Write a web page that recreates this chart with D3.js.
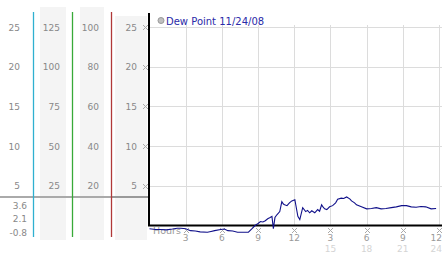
<!DOCTYPE html>
<html lang="en">
<head>
<meta charset="utf-8">
<script src="https://cdn.jsdelivr.net/npm/d3@7"></script>
<style type="text/css">
    body { margin: 0; background: #fff; }
    text { font-family: "DejaVu Sans", Verdana, sans-serif; }
</style>
</head>
<body>
<script>
// dew point readings, hours after midnight
const hours = [0, 0.5, 0.9, 1.4, 1.9, 2.3, 2.6, 3.0, 3.4, 3.8, 4.2, 4.8, 5.1, 5.4, 5.9, 6.2, 6.5, 6.9, 7.3, 7.7, 8.2, 8.5,
    8.75, 9.0, 9.2, 9.4, 9.6, 9.8, 10.0, 10.15, 10.27, 10.4, 10.56, 10.8, 10.97, 11.1, 11.2, 11.4, 11.6, 11.8, 12.05,
    12.3, 12.46, 12.7, 12.95, 13.1, 13.28, 13.45, 13.7, 13.94, 14.1, 14.27, 14.4, 14.52, 14.7, 14.93, 15.18, 15.43, 15.6,
    15.9, 16.1, 16.34, 16.6, 16.75, 17.0, 17.16, 17.57, 18.0, 18.4, 18.8, 19.2, 19.6, 20.05, 20.46, 20.9, 21.3, 21.7,
    22.1, 22.5, 22.9, 23.35, 23.76];
const dewPoint = [-0.4, -0.5, -0.5, -0.55, -0.45, -0.35, -0.35, -0.4, -0.65, -0.7, -0.8, -0.85, -0.75, -0.65, -0.5, -0.45, -0.65, -0.7, -0.85, -0.85, -0.85, -0.4,
    0, 0.25, 0.5, 0.45, 0.6, 0.85, 1.0, 1.15, -0.4, 1.0, 1.35, 1.75, 3.0, 2.7, 2.6, 2.5, 2.85, 3.1, 3.25,
    1.15, 0.75, 2.25, 1.75, 1.9, 1.6, 1.85, 1.6, 2.0, 1.8, 2.6, 2.3, 2.1, 2.0, 2.35, 2.5, 2.85, 3.3,
    3.45, 3.4, 3.6, 3.35, 3.1, 2.85, 2.6, 2.35, 2.1, 2.15, 2.25, 2.1, 2.15, 2.25, 2.35, 2.5, 2.5, 2.35,
    2.3, 2.4, 2.35, 2.1, 2.15];

const legendLabel = "Dew Point 11/24/08";
const hourTicks = [3, 6, 9, 12, 15, 18, 21, 24];
const hourLabels = ["3", "6", "9", "12", "3", "6", "9", "12"];
const hourLabels2 = ["", "", "", "", "15", "18", "21", "24"];
const col1Ticks = [5, 10, 15, 20, 25];
const col2Ticks = [25, 50, 75, 100, 125];
const col3Ticks = [20, 40, 60, 80, 100];
const col4Ticks = [5, 10, 15, 20, 25];
const lowLabels = ["3.6", "2.1", "-0.8"];

const w = 442, h = 253;
const svg = d3.select("body").append("svg").attr("width", w).attr("height", h);

const xScale = d3.scaleLinear().domain([0, 24]).range([149.5, 439]);
const yScale = d3.scaleLinear().domain([0, 25]).range([225.5, 27]);
const y2Scale = d3.scaleLinear().domain([0, 125]).range([225.5, 27]);
const y3Scale = d3.scaleLinear().domain([0, 100]).range([225.5, 27]);

// left column bands
svg.append("rect").attr("x", 40).attr("y", 7).attr("width", 26).attr("height", 233).attr("fill", "#f4f4f4");
svg.append("rect").attr("x", 80).attr("y", 7).attr("width", 24).attr("height", 233).attr("fill", "#f4f4f4");
svg.append("rect").attr("x", 115).attr("y", 16).attr("width", 32).attr("height", 224).attr("fill", "#f4f4f4");

// grid
svg.selectAll("line.hg").data(col1Ticks).enter().append("line")
    .attr("x1", 149).attr("x2", 442)
    .attr("y1", d => Math.round(yScale(d)) + 0.5).attr("y2", d => Math.round(yScale(d)) + 0.5)
    .attr("stroke", "#dcdcdc");
svg.selectAll("line.vg").data(hourTicks).enter().append("line")
    .attr("x1", d => Math.round(xScale(d)) + 0.5).attr("x2", d => Math.round(xScale(d)) + 0.5)
    .attr("y1", 25).attr("y2", 225)
    .attr("stroke", "#dcdcdc");

// gray separator line
svg.append("line").attr("x1", 0).attr("x2", 111).attr("y1", 197).attr("y2", 197)
    .attr("stroke", "#aaa").attr("stroke-width", 2);
svg.append("line").attr("x1", 111).attr("x2", 149).attr("y1", 197).attr("y2", 197)
    .attr("stroke", "#999").attr("stroke-width", 2);

// colored axis lines
const colLines = [{x: 33.5, c: "#2fb0d0"}, {x: 72.5, c: "#38aa38"}, {x: 111.5, c: "#b03838"}];
svg.selectAll("line.cl").data(colLines).enter().append("line")
    .attr("x1", d => d.x).attr("x2", d => d.x).attr("y1", 12).attr("y2", 237)
    .attr("stroke", d => d.c).attr("stroke-width", 1.3);

// left labels
const lab = (ticks, scale, x) => {
    svg.append("g").selectAll("text").data(ticks).enter().append("text")
        .attr("x", x).attr("y", d => scale(d) + 3.5)
        .attr("text-anchor", "end").attr("font-size", "9px").attr("fill", "#888")
        .text(d => d);
};
lab(col1Ticks, yScale, 20);
lab(col2Ticks, y2Scale, 60);
lab(col3Ticks, y3Scale, 99);
lab(col4Ticks, yScale, 137);

svg.append("g").selectAll("text").data(lowLabels).enter().append("text")
    .attr("x", 27).attr("y", (d, i) => 208.5 + i * 13.5)
    .attr("text-anchor", "end").attr("font-size", "9px").attr("fill", "#888")
    .text(d => d);

// small tick markers
const marker = (g) => {
    [[0,0],[4,0],[1,1],[3,1],[2,2],[1,3],[3,3],[0,4],[4,4]].forEach(p => {
        g.append("rect").attr("x", p[0]).attr("y", p[1]).attr("width", 1).attr("height", 1).attr("fill", "#aaa");
    });
};
col4Ticks.forEach(d => marker(svg.append("g").attr("transform", "translate(143," + (Math.round(yScale(d)) - 2) + ")")));
hourTicks.forEach(d => marker(svg.append("g").attr("transform", "translate(" + (Math.round(xScale(d)) - 2) + ",228)")));

// axes
svg.append("line").attr("x1", 149).attr("x2", 149).attr("y1", 13).attr("y2", 226)
    .attr("stroke", "#000").attr("stroke-width", 2);
svg.append("line").attr("x1", 148).attr("x2", 442).attr("y1", 225.5).attr("y2", 225.5)
    .attr("stroke", "#000").attr("stroke-width", 2);

// hour labels
const anchorFor = (d) => d === 24 ? "end" : "middle";
const xFor = (d) => d === 24 ? 442 : xScale(d);
svg.append("g").selectAll("text").data(hourTicks).enter().append("text")
    .attr("x", xFor).attr("y", 240.5)
    .attr("text-anchor", anchorFor).attr("font-size", "9px").attr("fill", "#999")
    .text((d, i) => hourLabels[i]);
svg.append("g").selectAll("text").data(hourTicks).enter().append("text")
    .attr("x", xFor).attr("y", 251.5)
    .attr("text-anchor", anchorFor).attr("font-size", "9px").attr("fill", "#d4d4d4")
    .text((d, i) => hourLabels2[i]);
svg.append("text").attr("x", 153).attr("y", 234).attr("font-size", "9.5px").attr("fill", "#999").text("Hours");

// dew point line
const data = hours.map((d, i) => ({h: d, v: dewPoint[i]}));
const line = d3.line().x(d => xScale(d.h)).y(d => yScale(d.v));
svg.append("path").datum(data).attr("d", line)
    .attr("fill", "none").attr("stroke", "#10108a").attr("stroke-width", 1.1);

// legend
svg.append("circle").attr("cx", 161).attr("cy", 20.5).attr("r", 3)
    .attr("fill", "#c0c0c0").attr("stroke", "#999");
svg.append("text").attr("x", 166).attr("y", 24.5).attr("font-size", "10px").attr("fill", "#2a2aa8")
    .text(legendLabel);
</script>
</body>
</html>
